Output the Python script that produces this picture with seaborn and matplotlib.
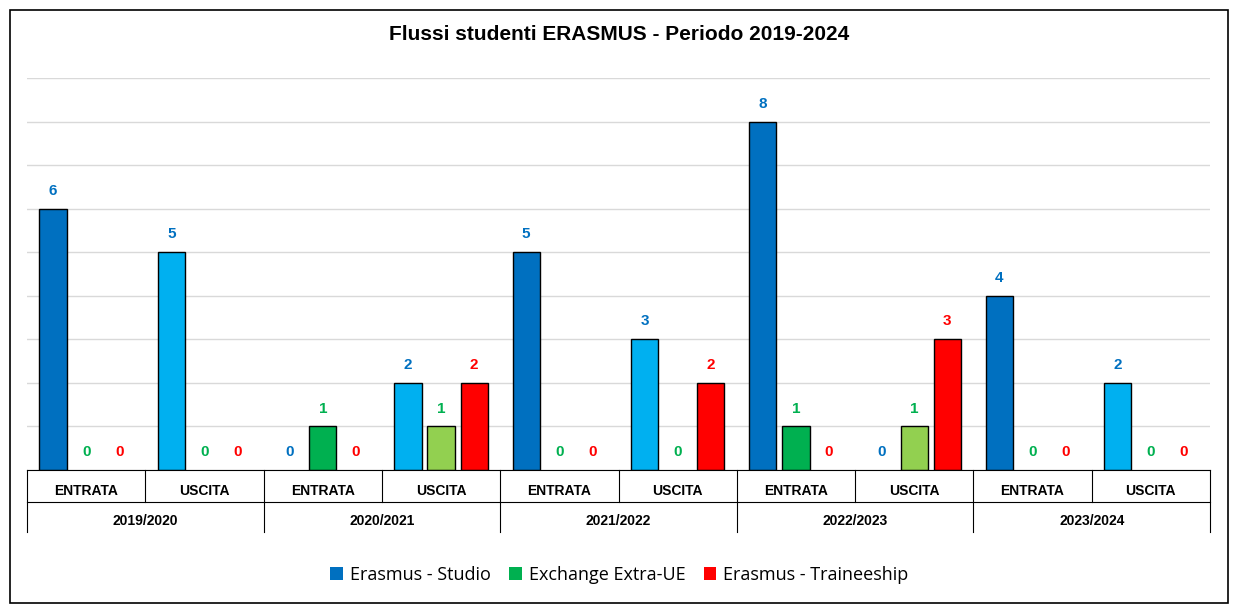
import matplotlib
matplotlib.use("Agg")
import matplotlib.pyplot as plt
import seaborn as sns
import pandas as pd
from matplotlib.patches import Rectangle, Patch
from matplotlib.lines import Line2D

years = ["2019/2020", "2020/2021", "2021/2022", "2022/2023", "2023/2024"]
flows = ["ENTRATA", "USCITA"]
series = ["Erasmus - Studio", "Exchange Extra-UE", "Erasmus - Traineeship"]
studio = [6, 5, 0, 2, 5, 3, 8, 0, 4, 2]
extra_ue = [0, 0, 1, 1, 0, 0, 1, 1, 0, 0]
traineeship = [0, 0, 0, 2, 0, 2, 0, 3, 0, 0]

cats = [f"{y}|{f}" for y in years for f in flows]
df = pd.DataFrame({
    "cat": cats * 3,
    "series": [s for s in series for _ in cats],
    "value": studio + extra_ue + traineeship,
})

col_in = ["#0070C0", "#00B050", "#FF0000"]
col_out = ["#00B0F0", "#92D050", "#FF0000"]
lab_col = ["#0070C0", "#00B050", "#FF0000"]

fig = plt.figure(figsize=(12.39, 6.15), dpi=100)
ax = fig.add_axes([27/1239, 1-470/615, (1210-27)/1239, (470-78)/615])
sns.barplot(data=df, x="cat", y="value", hue="series", order=cats,
            hue_order=series, width=0.84, ax=ax, legend=False)
ax.set_ylim(0, 9)
ax.set_xlim(-0.5, 9.5)
for si, cont in enumerate(ax.containers):
    for ci, bar in enumerate(cont):
        cx = bar.get_x() + bar.get_width()/2
        bar.set_width(0.23)
        bar.set_x(cx - 0.115)
        c = col_in[si] if ci % 2 == 0 else col_out[si]
        h = bar.get_height()
        bar.set_facecolor(c)
        bar.set_edgecolor("black")
        bar.set_linewidth(1.0 if h > 0 else 0)
        ax.text(cx, h + 0.25, f"{int(h)}", ha="center", va="bottom",
                color=lab_col[si], fontsize=11, fontweight="bold",
                family="Liberation Sans")

ax.set_yticks(range(0, 10))
ax.yaxis.grid(True, color="#D9D9D9", linewidth=1)
ax.set_axisbelow(True)
ax.tick_params(left=False, labelleft=False, bottom=False, labelbottom=False)
for s in ["top", "right", "left"]:
    ax.spines[s].set_visible(False)
ax.spines["bottom"].set_color("black")
ax.set_xlabel(""); ax.set_ylabel("")

tr = ax.get_xaxis_transform()
h = 392/615*1  # axes height fraction scale
ax_h = (470-78)
d1 = -32/ax_h
d2 = -62/ax_h
for i in range(11):
    x = i - 0.5
    y2 = d2 if i % 2 == 0 else d1
    ax.add_line(Line2D([x, x], [0, y2], transform=tr, color="black", lw=0.8, clip_on=False))
ax.add_line(Line2D([-0.5, 9.5], [d1, d1], transform=tr, color="black", lw=0.8, clip_on=False))
for i, c in enumerate(cats):
    ax.text(i, -21/ax_h, c.split("|")[1], transform=tr, ha="center", va="center",
            fontsize=10, fontweight="bold", family="Liberation Sans")
for j, y in enumerate(years):
    ax.text(2*j + 0.5, -51/ax_h, y, transform=tr, ha="center", va="center",
            fontsize=10, fontweight="bold", family="Liberation Sans")

fig.text(0.5, 1-35/615, "Flussi studenti ERASMUS - Periodo 2019-2024", ha="center",
         va="center", fontsize=15, fontweight="bold", family="Liberation Sans")
handles = [Patch(facecolor=c, edgecolor="none") for c in col_in]
fig.legend(handles, series, loc="center", bbox_to_anchor=(0.5, 1-575/615), ncol=3,
           frameon=False, prop={"family": "Open Sans", "size": 13},
           handlelength=0.7, handleheight=0.7, columnspacing=1.0, handletextpad=0.4)
fig.add_artist(Rectangle((10/1239, 1-603/615), 1218/1239, 593/615, transform=fig.transFigure,
                         fill=False, edgecolor="black", lw=1.2))
fig.savefig("out.png", dpi=100)
